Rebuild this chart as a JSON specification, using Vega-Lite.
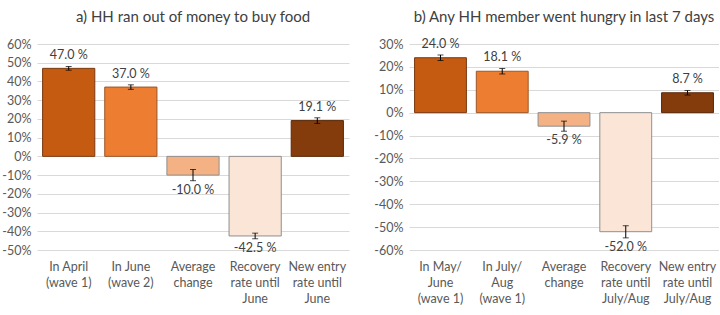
{
  "$schema": "https://vega.github.io/schema/vega-lite/v6.json",
  "padding": {"left": 1, "right": 0, "top": 9, "bottom": 0},
  "background": "white",
  "config": {
    "font": "Lato",
    "view": {"stroke": null},
    "title": {"fontSize": 15, "fontWeight": "normal", "color": "#404040", "font": "Lato", "offset": 13},
    "axis": {"labelFont": "Lato", "labelFontSize": 12.5, "labelColor": "#595959", "domain": false, "ticks": false, "title": null, "labelOverlap": false},
    "axisY": {"labelExpr": "datum.value + '%'", "gridColor": "#d9d9d9", "labelPadding": 6},
    "concat": {"spacing": 24}
  },
  "datasets": {
    "bars": [
      {"panel": "a", "k": 1, "cat": "In April|(wave 1)", "v": 47.0, "lo": 46.0, "hi": 48.0},
      {"panel": "a", "k": 2, "cat": "In June|(wave 2)", "v": 37.0, "lo": 35.8, "hi": 38.2},
      {"panel": "a", "k": 3, "cat": "Average|change", "v": -10.0, "lo": -13.0, "hi": -7.0},
      {"panel": "a", "k": 4, "cat": "Recovery|rate until|June", "v": -42.5, "lo": -44.0, "hi": -41.0},
      {"panel": "a", "k": 5, "cat": "New entry|rate until|June", "v": 19.1, "lo": 17.6, "hi": 20.6},
      {"panel": "b", "k": 1, "cat": "In May/|June|(wave 1)", "v": 24.0, "lo": 22.8, "hi": 25.2},
      {"panel": "b", "k": 2, "cat": "In July/|Aug|(wave 1)", "v": 18.1, "lo": 16.9, "hi": 19.3},
      {"panel": "b", "k": 3, "cat": "Average|change", "v": -5.9, "lo": -8.1, "hi": -3.7},
      {"panel": "b", "k": 4, "cat": "Recovery|rate until|July/Aug", "v": -52.0, "lo": -54.7, "hi": -49.4},
      {"panel": "b", "k": 5, "cat": "New entry|rate until|July/Aug", "v": 8.7, "lo": 7.7, "hi": 9.7}
    ]
  },
  "hconcat": [
    {
      "title": "a) HH ran out of money to buy food",
      "width": 312,
      "height": 206,
      "data": {"name": "bars"},
      "transform": [
        {"filter": "datum.panel === 'a'"},
        {"calculate": "replace(format(datum.v, '.1f'), '\u2212', '-') + ' %'", "as": "lab"}
      ],
      "encoding": {
        "x": {"field": "cat", "type": "nominal", "sort": {"field": "k"},
          "scale": {"paddingInner": 0.16, "paddingOuter": 0.09},
          "axis": {"labelAngle": 0, "labelExpr": "split(datum.label, '|')", "labelPadding": 10, "labelLineHeight": 16, "labelBaseline": "top", "grid": false, "orient": "bottom", "labelFontSize": 12.5}}
      },
      "layer": [
        {
          "mark": {"type": "bar", "strokeWidth": 1},
          "encoding": {
            "y": {"field": "v", "type": "quantitative",
              "scale": {"domain": [-50, 60], "nice": false},
              "axis": {"values": [-50, -40, -30, -20, -10, 0, 10, 20, 30, 40, 50, 60]}},
            "fill": {"field": "k", "type": "nominal", "legend": null,
              "scale": {"domain": [1, 2, 3, 4, 5], "range": ["#C55A11", "#ED7D31", "#F4B183", "#FBE5D6", "#843C0C"]}},
            "stroke": {"field": "k", "type": "nominal", "legend": null,
              "scale": {"domain": [1, 2, 3, 4, 5], "range": ["#7a3a12", "#9c5628", "#8f8f8f", "#8f8f8f", "#5a2808"]}}
          }
        },
        {
          "mark": {"type": "rule", "color": "#000000", "strokeWidth": 1},
          "encoding": {"y": {"field": "lo", "type": "quantitative", "axis": {"values": [-50, -40, -30, -20, -10, 0, 10, 20, 30, 40, 50, 60]}}, "y2": {"field": "hi"}}
        },
        {
          "mark": {"type": "tick", "color": "#000000", "size": 6, "thickness": 1},
          "encoding": {"y": {"field": "lo", "type": "quantitative", "axis": {"values": [-50, -40, -30, -20, -10, 0, 10, 20, 30, 40, 50, 60]}}}
        },
        {
          "mark": {"type": "tick", "color": "#000000", "size": 6, "thickness": 1},
          "encoding": {"y": {"field": "hi", "type": "quantitative", "axis": {"values": [-50, -40, -30, -20, -10, 0, 10, 20, 30, 40, 50, 60]}}}
        },
        {
          "transform": [{"filter": "datum.v >= 0"}],
          "mark": {"type": "text", "fontSize": 12.5, "color": "#404040", "baseline": "bottom", "dy": -4},
          "encoding": {"y": {"field": "hi", "type": "quantitative", "axis": {"values": [-50, -40, -30, -20, -10, 0, 10, 20, 30, 40, 50, 60]}}, "text": {"field": "lab"}}
        },
        {
          "transform": [{"filter": "datum.v < 0"}],
          "mark": {"type": "text", "fontSize": 12.5, "color": "#404040", "baseline": "top", "dy": 3},
          "encoding": {"y": {"field": "lo", "type": "quantitative", "axis": {"values": [-50, -40, -30, -20, -10, 0, 10, 20, 30, 40, 50, 60]}}, "text": {"field": "lab"}}
        }
      ]
    },
    {
      "title": "b) Any HH member went hungry in last 7 days",
      "width": 310,
      "height": 206,
      "data": {"name": "bars"},
      "transform": [
        {"filter": "datum.panel === 'b'"},
        {"calculate": "replace(format(datum.v, '.1f'), '\u2212', '-') + ' %'", "as": "lab"}
      ],
      "encoding": {
        "x": {"field": "cat", "type": "nominal", "sort": {"field": "k"},
          "scale": {"paddingInner": 0.16, "paddingOuter": 0.09},
          "axis": {"labelAngle": 0, "labelExpr": "split(datum.label, '|')", "labelPadding": 10, "labelLineHeight": 16, "labelBaseline": "top", "grid": false, "orient": "bottom", "labelFontSize": 12.5}}
      },
      "layer": [
        {
          "mark": {"type": "bar", "strokeWidth": 1},
          "encoding": {
            "y": {"field": "v", "type": "quantitative",
              "scale": {"domain": [-60, 30], "nice": false},
              "axis": {"values": [-60, -50, -40, -30, -20, -10, 0, 10, 20, 30]}},
            "fill": {"field": "k", "type": "nominal", "legend": null,
              "scale": {"domain": [1, 2, 3, 4, 5], "range": ["#C55A11", "#ED7D31", "#F4B183", "#FBE5D6", "#843C0C"]}},
            "stroke": {"field": "k", "type": "nominal", "legend": null,
              "scale": {"domain": [1, 2, 3, 4, 5], "range": ["#7a3a12", "#9c5628", "#8f8f8f", "#8f8f8f", "#5a2808"]}}
          }
        },
        {
          "mark": {"type": "rule", "color": "#000000", "strokeWidth": 1},
          "encoding": {"y": {"field": "lo", "type": "quantitative", "axis": {"values": [-60, -50, -40, -30, -20, -10, 0, 10, 20, 30]}}, "y2": {"field": "hi"}}
        },
        {
          "mark": {"type": "tick", "color": "#000000", "size": 6, "thickness": 1},
          "encoding": {"y": {"field": "lo", "type": "quantitative", "axis": {"values": [-60, -50, -40, -30, -20, -10, 0, 10, 20, 30]}}}
        },
        {
          "mark": {"type": "tick", "color": "#000000", "size": 6, "thickness": 1},
          "encoding": {"y": {"field": "hi", "type": "quantitative", "axis": {"values": [-60, -50, -40, -30, -20, -10, 0, 10, 20, 30]}}}
        },
        {
          "transform": [{"filter": "datum.v >= 0"}],
          "mark": {"type": "text", "fontSize": 12.5, "color": "#404040", "baseline": "bottom", "dy": -4},
          "encoding": {"y": {"field": "hi", "type": "quantitative", "axis": {"values": [-60, -50, -40, -30, -20, -10, 0, 10, 20, 30]}}, "text": {"field": "lab"}}
        },
        {
          "transform": [{"filter": "datum.v < 0"}],
          "mark": {"type": "text", "fontSize": 12.5, "color": "#404040", "baseline": "top", "dy": 3},
          "encoding": {"y": {"field": "lo", "type": "quantitative", "axis": {"values": [-60, -50, -40, -30, -20, -10, 0, 10, 20, 30]}}, "text": {"field": "lab"}}
        }
      ]
    }
  ]
}
